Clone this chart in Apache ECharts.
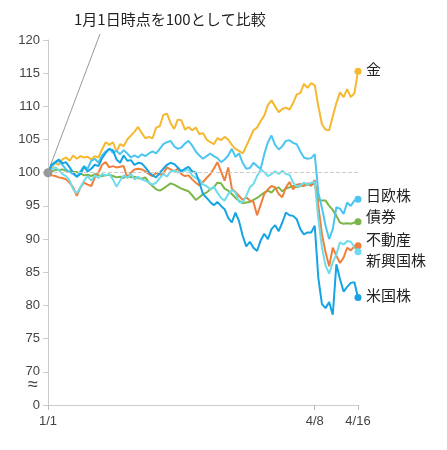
<!DOCTYPE html>
<html><head><meta charset="utf-8">
<script src="https://cdn.jsdelivr.net/npm/echarts@6/dist/echarts.min.js"></script>
<style>html,body{margin:0;padding:0;background:#fff}#c{width:447px;height:450px}</style>
</head><body><div id="c"></div>
<script>
const xLabels = []
for (let i = 0; i < 87; i++) xLabels.push('')
xLabels[0] = '1/1'; xLabels[74] = '4/8'; xLabels[86] = '4/16'

const gold = [100,100.8,101.5,101.2,102,102.3, 101.8,102.6,102.1,102.5,102.3,102.4,102.0,102.5,102.3,
  103.5,104.6,104.2,104.6,103.2,104.3,104.0, 105.0,105.6,106.2,106.9,106.0,105.2,105.4,105.2,106.8,
  107.0,108.7,108.9,107.5,106.6,108.0,107.9, 106.5,106.9,106.4,106.8,105.8,106.0,105.0,104.6,104.3,
  105.2,104.9,105.4,105.0,104.2,103.6,103.3, 102.9,104.0,105.2,106.4,106.8,107.8,108.6,110.2,110.9,
  110.0,109.1,109.6,109.8,109.5,110.5,111.8,112.0, 113.4,112.8,113.5,113.2,
  110.0,107.3,106.5,106.4,108.5,110.5,112.1,111.4,112.6,111.4,112.0,115.3]
const jpEu = [100,101,101.5,101.8,101.2,100.5,100.1,99.8,99.4, 100.2,101.0,100.6,101.8,102.1,101.5,102.6,103.2,
  103.6,103.0,103.3,102.8,103.4,102.9,102.3,102.6,102.3, 102.8,102.5,102.9,103.2,102.9,103.6,104.3,104.6,104.8,
  104.0,103.6,103.8,104.4,104.8,104.1,103.2,102.6,102.1, 102.5,102.9,102.5,102.2,101.6,102.0,102.6,103.6,102.4,
  102.9,101.5,100.6,100.7,101.5,101.0,100.6,102.8,104.6, 105.6,104.2,103.5,104.0,104.8,104.9,104.5,104.3,103.2,
  102.3,102.1,102.2,102.8, 97.0,94.7,92.0,90.0,91.5,94.8,94.6,93.8,95.5,95.0,95.8,96.0]
const us = [100,101.2,101.6,102.0,101.4,101.6,100.8,100.0,99.4, 99.8,100.9,100.2,100.6,101.2,101.0,102.2,103.0,103.6,
  103.4,102.0,101.5,102.6,101.8,101.9,101.2,101.5,101.4, 100.8,100.1,99.6,99.3,100.0,100.6,101.2,101.5,101.3,
  100.8,100.2,100.6,100.9,100.2,100.0,98.5,96.8,96.2, 95.6,95.1,95.6,95.0,94.5,93.2,92.5,94.0,92.7,
  90.5,88.9,89.6,88.7,88.2,89.8,90.8,90.0,91.5, 92.1,91.2,92.5,94.0,93.6,93.5,93.0,91.5,90.7,
  91.0,91.0,92.0, 84.1,80.2,79.6,80.5,78.6,86.2,84.0,82.1,82.8,83.4,83.5,81.2]
const realEstate = [100,99.6,99.5,99.3,99.2,99.0,98.5,97.8,96.5, 97.8,98.5,98.2,98.0,99.3,100.0,101.2,101.6,100.8,
  101.0,100.8,100.9,101.0,99.2,100.0,100.5,100.6,100.5, 100.2,99.8,99.5,100.0,99.7,99.9,100.8,100.5,100.2,
  100.6,99.8,99.5,99.6,99.0,98.5,98.1,98.6,99.2, 99.8,100.6,101.6,100.2,98.8,100.8,97.6,97.1,96.5,
  95.9,96.3,95.8,95.6,93.6,95.2,96.8,97.5,98.0, 97.8,96.8,96.3,97.8,98.6,97.5,98.2,98.3,98.0,
  98.4,98.0,98.9, 95.0,90.7,88.0,85.9,88.7,87.5,86.4,87.2,88.7,88.3,88.9,89.0]
const bonds = [100,100.2,100.4,100.4,100.5,100.3,100.2,100.1,100.1, 99.9,99.6,99.7,99.5,99.8,99.6,99.5,99.6,99.7,
  99.5,99.3,99.4,99.2,99.6,99.3,99.4,99.2,99.1, 99.3,98.5,98.0,97.5,97.3,97.6,98.0,98.4,98.2,
  97.9,97.6,97.4,97.2,96.6,95.9,96.3,96.8,97.0, 97.5,97.8,98.5,98.4,97.6,97.3,96.8,96.2,95.8,
  95.4,95.5,95.6,95.9,96.2,96.6,97.0,97.3,97.0, 97.6,97.8,97.2,97.6,97.8,98.0,97.8,98.0,98.1,
  98.2,98.3,98.3, 95.8,95.8,95.8,95.0,94.4,93.5,92.5,92.3,92.4,92.3,92.5,92.6]
const emerging = [100,100.5,100.8,100.4,99.8,99.5,98.8,97.5,96.9, 97.8,98.8,99.5,98.8,99.6,99.2,99.8,99.6,99.8,
  99.0,97.9,98.8,99.6,99.2,99.8,99.0,99.4,99.0, 98.8,98.5,98.2,98.5,99.2,99.8,99.4,100.2,100.3,
  100.0,100.4,100.3,100.5,99.6,99.2,99.0,98.2,98.0, 97.5,97.9,97.0,96.2,95.8,96.8,97.4,97.0,95.6,
  95.5,96.5,97.8,98.3,99.5,100.5,100.1,99.5,99.8, 100.2,99.8,100.3,99.8,99.7,98.5,97.9,98.1,98.5,
  98.2,98.5,98.6, 93.0,88.7,86.0,84.8,86.5,87.7,89.5,89.2,89.7,89.6,88.8,88.1]

const seriesDefs = [
  { name: '債券', data: bonds, color: '#7ab648' },
  { name: '不動産', data: realEstate, color: '#f07f3c' },
  { name: '新興国株', data: emerging, color: '#6fdcec' },
  { name: '金', data: gold, color: '#f5b82e' },
  { name: '日欧株', data: jpEu, color: '#4cc6f0' },
  { name: '米国株', data: us, color: '#16a4e4' },
]

const chart = echarts.init(document.getElementById('c'))
const series = seriesDefs.map((s) => ({
  name: s.name,
  type: 'line',
  data: s.data,
  symbol: 'circle',
  symbolSize: (v, p) => (p.dataIndex === s.data.length - 1 ? 7 : 0),
  showAllSymbol: true,
  lineStyle: { width: 2, color: s.color },
  itemStyle: { color: s.color },
  animation: false,
}))
// 基準点と100の点線
series.push({
  type: 'line',
  data: [100],
  symbol: 'circle',
  symbolSize: 9,
  itemStyle: { color: '#999' },
  markLine: {
    silent: true, symbol: 'none', label: { show: false },
    lineStyle: { type: 'dashed', color: '#ccc', width: 1 },
    data: [{ yAxis: 100 }],
  },
  z: 10,
  animation: false,
})

const labelStyle = { fontSize: 15, fill: '#222', fontFamily: 'Noto Sans CJK JP' }
chart.setOption({
  grid: { left: 48, right: 89, top: 40, bottom: 45 },
  xAxis: {
    type: 'category',
    data: xLabels,
    boundaryGap: false,
    axisLine: { lineStyle: { color: '#ccc' } },
    axisTick: { interval: (i) => xLabels[i] !== '', lineStyle: { color: '#bbb' } },
    axisLabel: { interval: (i) => xLabels[i] !== '', color: '#444', fontSize: 13, margin: 10 },
  },
  yAxis: {
    type: 'value',
    min: 65, max: 120, interval: 5,
    axisLine: { show: true, lineStyle: { color: '#ccc' } },
    axisTick: { show: true, lineStyle: { color: '#ccc' } },
    splitLine: { show: false },
    axisLabel: { color: '#444', fontSize: 13, formatter: (v) => (v === 65 ? '0' : v) },
  },
  series: series,
  graphic: [
    { type: 'line', shape: { x1: 48, y1: 172, x2: 100, y2: 34 }, style: { stroke: '#999', lineWidth: 1 } },
    { type: 'text', left: 74, top: 12, style: Object.assign({}, labelStyle, { text: '1月1日時点を100として比較' }) },
    { type: 'text', left: 28, top: 376, style: { text: '≈', fontSize: 18, fill: '#444' } },
    { type: 'text', left: 366, top: 62, style: Object.assign({}, labelStyle, { text: '金' }) },
    { type: 'text', left: 366, top: 188, style: Object.assign({}, labelStyle, { text: '日欧株' }) },
    { type: 'text', left: 366, top: 209, style: Object.assign({}, labelStyle, { text: '債券' }) },
    { type: 'text', left: 366, top: 232, style: Object.assign({}, labelStyle, { text: '不動産' }) },
    { type: 'text', left: 366, top: 253, style: Object.assign({}, labelStyle, { text: '新興国株' }) },
    { type: 'text', left: 366, top: 288, style: Object.assign({}, labelStyle, { text: '米国株' }) },
  ],
})
</script></body></html>
